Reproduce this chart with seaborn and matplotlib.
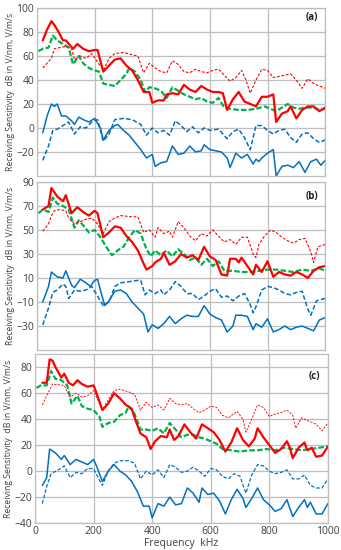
import pandas as pd
import seaborn as sns
import matplotlib.pyplot as plt

# (freq kHz, dB), one list per curve per panel
a_red = [(20, 73), (35, 82), (50, 89), (60, 86), (75, 80), (90, 73), (100, 73), (125, 66), (140, 70), (160, 66),
         (180, 64), (200, 65), (210, 65), (230, 47), (250, 52), (270, 57), (290, 58), (310, 52), (330, 48), (350, 40),
         (370, 30), (390, 30), (400, 21), (420, 23), (440, 23), (450, 28), (470, 29), (490, 28), (510, 36), (530, 32),
         (550, 30), (570, 35), (590, 32), (610, 30), (630, 30), (645, 29), (660, 15), (680, 24), (700, 30), (720, 22),
         (740, 20), (760, 18), (780, 26), (800, 26), (820, 28), (830, 5), (850, 12), (870, 14), (880, 18), (900, 8),
         (920, 15), (940, 18), (960, 18), (980, 14), (1000, 17)]
a_red_dash = [(20, 50), (50, 58), (60, 66), (80, 67), (100, 68), (120, 66), (130, 57), (150, 60), (170, 58), (190, 62),
              (210, 55), (230, 48), (250, 58), (270, 62), (300, 63), (330, 61), (350, 60), (370, 46), (390, 54),
              (410, 50), (430, 47), (450, 46), (470, 56), (490, 53), (510, 47), (530, 46), (550, 49), (570, 47),
              (590, 46), (610, 48), (630, 49), (650, 44), (670, 39), (690, 42), (710, 48), (725, 40), (740, 29),
              (760, 40), (780, 49), (800, 48), (820, 42), (840, 43), (860, 44), (880, 45), (900, 40), (920, 33),
              (940, 41), (960, 37), (980, 35), (1000, 33)]
a_green = [(5, 64), (20, 66), (40, 67), (55, 77), (70, 73), (90, 70), (110, 67), (125, 53), (145, 60), (160, 54),
           (180, 50), (200, 48), (215, 47), (230, 37), (250, 36), (270, 35), (290, 40), (310, 45), (320, 50), (340, 47),
           (360, 40), (375, 30), (390, 34), (410, 33), (430, 31), (450, 25), (470, 34), (490, 31), (510, 28), (530, 26),
           (550, 24), (570, 25), (590, 22), (610, 21), (630, 25), (650, 17), (670, 16), (700, 15), (730, 15), (760, 16),
           (790, 18), (810, 16), (830, 14), (850, 17), (870, 20), (890, 17), (910, 16), (930, 17), (960, 17), (980, 15),
           (1000, 16)]
a_blue = [(20, -4), (35, 10), (50, 20), (60, 18), (70, 20), (85, 10), (100, 10), (120, 6), (130, 3), (145, 9),
          (160, 7), (180, 5), (200, 8), (220, 0), (230, -10), (250, -2), (270, 2), (280, 3), (300, -2), (320, -6),
          (340, -12), (360, -18), (380, -25), (400, -22), (410, -32), (430, -29), (450, -28), (470, -15), (490, -22),
          (510, -21), (530, -15), (550, -20), (570, -19), (580, -14), (600, -18), (620, -19), (640, -20), (660, -25),
          (670, -33), (690, -21), (710, -25), (730, -22), (750, -30), (760, -26), (770, -28), (780, -25), (800, -21),
          (820, -18), (830, -40), (850, -32), (870, -31), (890, -33), (910, -28), (930, -37), (950, -28), (970, -26),
          (985, -31), (1000, -27)]
a_blue_dash = [(20, -27), (40, -15), (55, -2), (70, -1), (90, 2), (110, 5), (130, -5), (150, 1), (170, 0), (190, 5),
               (210, 7), (230, -11), (250, -5), (270, 7), (300, 8), (330, 7), (360, 3), (380, -6), (400, 0),
               (420, -4), (440, -2), (460, -6), (480, 6), (500, 2), (520, -3), (540, 1), (560, -4), (580, 0),
               (600, -2), (630, -1), (660, -9), (680, -3), (700, -1), (720, -8), (740, -18), (760, 2), (780, 2),
               (800, -2), (820, -5), (840, -2), (860, -1), (880, -8), (900, -12), (920, -5), (940, -4), (960, -9),
               (980, -12), (1000, -10)]

b_red = [(20, 67), (40, 70), (50, 85), (70, 78), (90, 74), (100, 79), (120, 64), (140, 69), (160, 65), (180, 62),
         (200, 66), (210, 64), (230, 44), (250, 48), (270, 53), (290, 52), (310, 45), (330, 40), (350, 33), (370, 22),
         (380, 17), (400, 20), (410, 23), (430, 26), (440, 31), (460, 21), (480, 24), (500, 30), (520, 27), (540, 29),
         (560, 25), (580, 36), (600, 28), (620, 25), (640, 13), (660, 12), (670, 26), (690, 26), (700, 23), (710, 27),
         (730, 20), (750, 13), (760, 21), (780, 15), (800, 24), (820, 11), (840, 15), (860, 13), (880, 12), (900, 15),
         (920, 13), (940, 10), (960, 16), (980, 19), (1000, 20)]
b_red_dash = [(20, 49), (40, 55), (50, 62), (60, 66), (80, 67), (100, 66), (110, 60), (130, 55), (150, 57), (170, 59),
              (190, 60), (210, 55), (230, 47), (250, 57), (270, 60), (290, 62), (330, 61), (350, 61), (370, 48),
              (390, 50), (410, 44), (420, 52), (440, 47), (460, 49), (470, 44), (490, 57), (510, 52), (530, 45),
              (550, 41), (570, 47), (590, 45), (610, 50), (630, 45), (650, 40), (670, 42), (690, 38), (710, 44),
              (730, 44), (750, 30), (760, 27), (770, 38), (790, 45), (810, 50), (830, 48), (850, 44), (870, 41),
              (890, 39), (910, 42), (930, 43), (950, 32), (960, 23), (975, 36), (1000, 38)]
b_green = [(5, 64), (20, 67), (40, 65), (55, 77), (70, 72), (90, 70), (110, 67), (130, 52), (145, 58), (160, 54),
           (180, 48), (200, 50), (220, 44), (240, 36), (260, 29), (280, 33), (300, 36), (320, 44), (340, 50), (360, 47),
           (380, 34), (395, 28), (410, 33), (430, 29), (450, 33), (470, 28), (490, 34), (510, 30), (530, 25), (550, 27),
           (570, 21), (590, 26), (610, 20), (630, 24), (650, 16), (680, 16), (710, 15), (740, 15), (770, 16), (800, 17),
           (830, 17), (860, 16), (890, 15), (920, 17), (950, 16), (980, 18), (1000, 16)]
b_blue = [(20, -10), (40, 3), (50, 15), (70, 11), (90, 10), (100, 16), (120, 4), (130, 2), (150, 9), (170, 6),
          (185, 3), (200, 8), (210, 9), (220, 0), (235, -13), (250, -9), (270, -1), (290, 0), (310, -3), (330, -10),
          (350, -15), (370, -20), (385, -35), (400, -29), (420, -32), (440, -28), (460, -22), (480, -28), (500, -24),
          (520, -21), (540, -22), (560, -22), (580, -13), (600, -20), (620, -23), (640, -25), (660, -35), (680, -30),
          (690, -21), (710, -21), (730, -22), (750, -33), (760, -28), (780, -31), (800, -24), (820, -35), (840, -33),
          (860, -30), (880, -33), (900, -31), (920, -30), (940, -32), (960, -34), (980, -25), (1000, -23)]
b_blue_dash = [(20, -29), (40, -15), (55, -2), (70, 0), (90, 5), (100, 3), (110, -7), (130, 0), (150, -1), (170, 0),
               (190, 3), (210, -5), (230, -13), (250, -10), (270, 3), (290, 6), (320, 7), (350, 8), (360, 8),
               (375, -4), (390, 0), (410, -3), (430, 0), (440, -4), (460, 0), (480, 7), (500, 3), (520, -3), (540, -3),
               (560, -8), (580, -5), (600, -1), (620, 1), (640, -6), (660, -5), (680, -9), (700, -5), (720, -3),
               (740, -12), (750, -19), (760, -14), (780, 0), (800, 3), (820, 2), (840, 0), (860, -3), (880, -4),
               (900, -2), (920, -1), (940, -16), (950, -21), (970, -9), (1000, -7)]

c_red = [(25, 68), (40, 68), (50, 86), (60, 85), (70, 80), (90, 72), (100, 75), (115, 68), (130, 66), (145, 70),
         (160, 67), (180, 65), (200, 66), (210, 60), (230, 47), (250, 52), (270, 60), (290, 56), (310, 51), (330, 48),
         (345, 38), (360, 29), (380, 26), (395, 17), (410, 23), (430, 27), (450, 26), (460, 32), (475, 24), (490, 27),
         (510, 36), (530, 30), (550, 25), (570, 36), (590, 33), (610, 30), (630, 24), (650, 15), (670, 22), (690, 33),
         (710, 24), (730, 19), (750, 25), (760, 33), (780, 26), (800, 20), (820, 14), (840, 17), (860, 23), (870, 18),
         (880, 10), (900, 18), (920, 22), (930, 16), (945, 18), (960, 11), (980, 12), (1000, 19)]
c_red_dash = [(25, 51), (40, 58), (60, 67), (100, 66), (120, 57), (140, 60), (160, 57), (180, 58), (200, 62),
              (220, 52), (230, 47), (250, 55), (270, 62), (290, 63), (320, 61), (340, 59), (360, 47), (380, 53),
              (400, 49), (420, 51), (440, 47), (460, 56), (480, 52), (500, 51), (520, 52), (540, 48), (560, 45),
              (580, 47), (600, 50), (620, 49), (640, 43), (660, 41), (690, 46), (710, 40), (720, 30), (740, 40),
              (760, 51), (780, 49), (800, 42), (820, 44), (840, 45), (860, 47), (880, 43), (890, 33), (910, 41),
              (930, 39), (960, 36), (980, 31), (1000, 37)]
c_green = [(5, 64), (20, 66), (40, 66), (55, 77), (70, 71), (90, 70), (110, 66), (125, 52), (145, 58), (160, 50),
           (180, 48), (200, 47), (220, 42), (230, 34), (250, 37), (270, 38), (290, 43), (310, 45), (320, 50), (340, 44),
           (360, 32), (380, 32), (400, 31), (420, 33), (440, 29), (460, 37), (480, 32), (500, 26), (520, 28), (540, 28),
           (560, 26), (580, 25), (600, 23), (620, 21), (640, 17), (670, 16), (700, 15), (730, 16), (760, 16), (790, 17),
           (820, 16), (850, 18), (880, 17), (910, 16), (940, 17), (970, 18), (1000, 19)]
c_blue = [(25, -11), (40, -5), (50, 17), (70, 14), (90, 9), (100, 12), (120, 5), (140, 9), (160, 7), (180, 5),
          (200, 9), (210, 4), (230, -8), (250, 0), (270, 5), (290, 0), (310, -3), (330, -8), (350, -16), (370, -27),
          (390, -27), (400, -36), (420, -25), (440, -27), (460, -20), (480, -26), (500, -25), (520, -13), (540, -17),
          (560, -24), (570, -13), (590, -18), (610, -17), (630, -23), (650, -33), (670, -22), (690, -14), (710, -21),
          (720, -28), (740, -21), (760, -13), (780, -22), (800, -26), (820, -31), (840, -29), (860, -22), (880, -35),
          (900, -28), (920, -22), (930, -28), (940, -24), (960, -33), (980, -33), (1000, -25)]
c_blue_dash = [(25, -25), (40, -12), (55, -2), (80, 1), (100, 4), (120, -5), (140, -1), (160, -2), (180, 2), (200, 2),
               (220, -7), (230, -11), (250, 0), (270, 6), (290, 8), (320, 8), (340, 6), (360, -6), (380, 0), (400, -3),
               (420, 1), (440, -5), (460, 5), (480, 3), (500, -1), (520, 0), (540, 3), (560, 0), (580, -4), (600, 2),
               (620, 1), (640, -4), (660, -6), (680, -2), (700, -4), (720, -17), (740, -3), (760, 5), (780, 4),
               (800, 0), (820, -2), (840, -1), (860, 1), (880, -6), (900, -6), (920, -3), (940, -11), (960, -13),
               (980, -13), (1000, -6)]

panel_labels = ['(a)', '(b)', '(c)']
ylims = [(-40, 100), (-50, 90), (-40, 90)]
yticks = [range(-20, 101, 20), range(-30, 91, 20), range(-40, 81, 20)]

sns.set_style('white')
plt.rcParams['font.family'] = ['Open Sans', 'DejaVu Sans']

RED, GREEN, BLUE = '#FF0000', '#00B050', '#0070C0'

fig = plt.figure(figsize=(3.41, 5.5), dpi=100)
axes = [fig.add_axes([0.1085, 0.680, 0.845, 0.3055]),
        fig.add_axes([0.1085, 0.3636, 0.845, 0.3055]),
        fig.add_axes([0.1026, 0.049, 0.859, 0.307])]

panels = [
    [a_green, a_red_dash, a_red, a_blue_dash, a_blue],
    [b_green, b_red_dash, b_red, b_blue_dash, b_blue],
    [c_green, c_red_dash, c_red, c_blue_dash, c_blue],
]
# color, dash style, width for green, red dashed, red, blue dashed, blue
styles = [(GREEN, (0, (2.5, 1.0)), 1.6), (RED, (0, (2.5, 1.5)), 0.8), (RED, '-', 1.6),
          (BLUE, (0, (3, 1.5)), 1.1), (BLUE, '-', 1.1)]

for i, ax in enumerate(axes):
    for curve, (col, ls, lw) in zip(panels[i], styles):
        df = pd.DataFrame(curve, columns=['freq', 'dB'])
        w = lw * 0.8 if (i == 2 and ls != '-' and col != GREEN) else lw
        sns.lineplot(data=df, x='freq', y='dB', color=col, linestyle=ls, linewidth=w, ax=ax)
    ax.set_xlim(0, 1000)
    ax.set_ylim(*ylims[i])
    ax.set_xticks(range(0, 1001, 200))
    ax.set_yticks(list(yticks[i]))
    ax.grid(True, color='#BEBEBE', linewidth=0.9)
    ax.set_axisbelow(True)
    for s in ax.spines.values():
        s.set_color('#BEBEBE')
        s.set_linewidth(0.9)
    ax.tick_params(axis='both', labelsize=7.5, colors='#404040', length=0, pad=2)
    ax.set_ylabel('Receiving Sensitivity  dB in V/nm, V/m/s', fontsize=6.2, color='#404040', labelpad=1)
    if i < 2:
        ax.set_xticklabels([])
        ax.set_xlabel('')
    else:
        ax.set_xlabel('Frequency  kHz', fontsize=7.5, color='#404040', labelpad=1)
    ytxt = [0.945, 0.915, 0.87][i]
    ax.text(0.975, ytxt, panel_labels[i], transform=ax.transAxes, ha='right', va='center',
            fontsize=7, fontweight='bold', color='#202020')

plt.savefig('out.png', dpi=100)
